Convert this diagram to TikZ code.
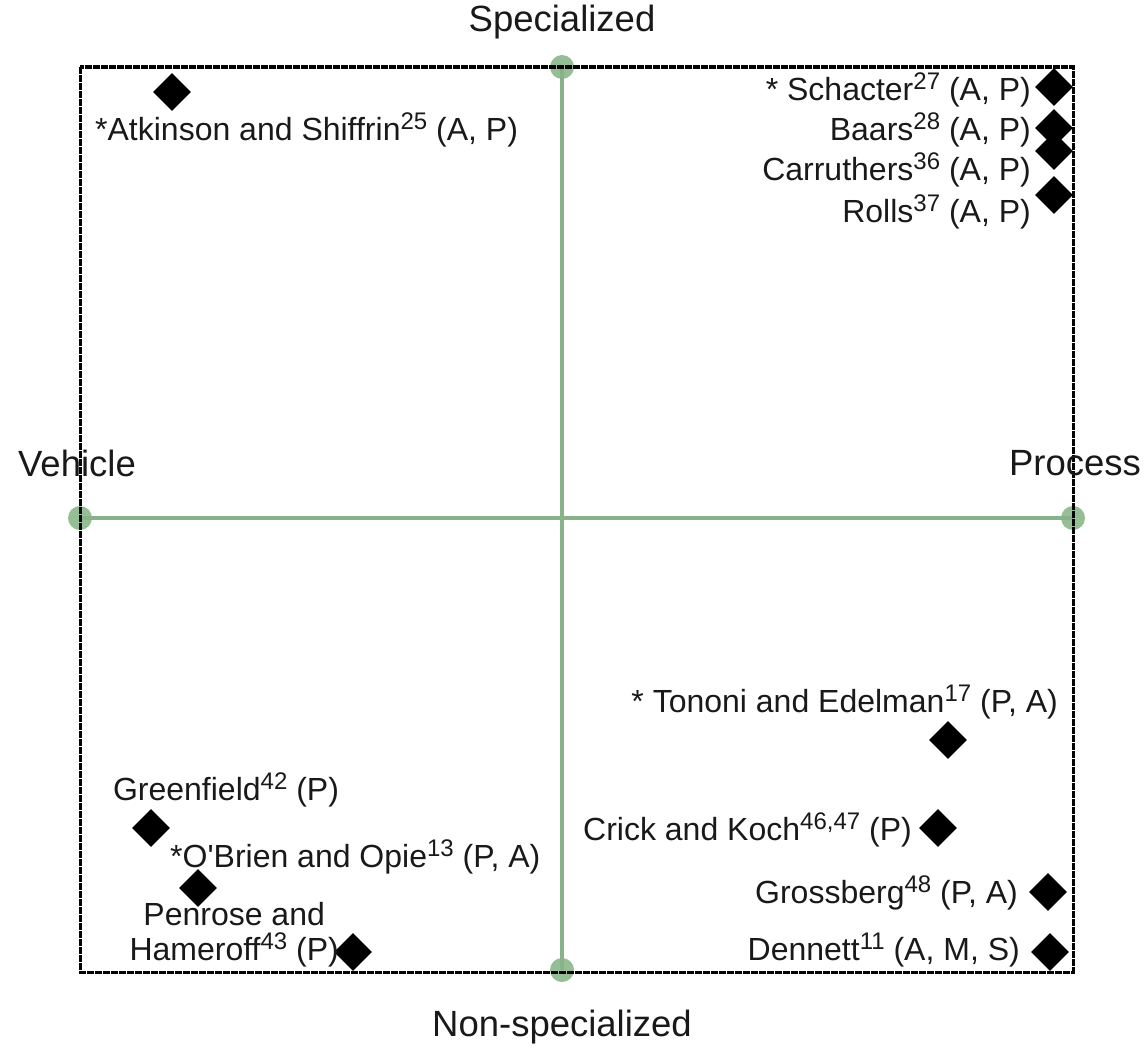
\documentclass[tikz,border=0pt]{standalone}
\usepackage{fontspec}
\setmainfont{Liberation Sans}
\usetikzlibrary{shapes.geometric}
\definecolor{axiscol}{RGB}{138,178,138}
\definecolor{dotcol}{RGB}{150,190,150}
\definecolor{txtcol}{RGB}{25,25,25}
\newcommand\refno[1]{\raisebox{11pt}{\fontsize{24}{24}\selectfont #1}}

\begin{document}
\begin{tikzpicture}[
  x=1pt, y=-1pt,
  font=\fontsize{32}{31}\selectfont, text=txtcol,
  frame/.style={line width=3pt, dash pattern=on 7pt off 1pt},
  axis/.style={line width=3.8pt, axiscol},
  endpt/.style={circle, fill=dotcol, minimum size=24pt, inner sep=0pt},
  theory/.style={diamond, fill=black, minimum width=38pt, minimum height=38pt, inner sep=0pt},
  lbl/.style={inner sep=0pt},
  pole/.style={inner sep=0pt, font=\fontsize{36.5}{40}\selectfont}
]
  \useasboundingbox (0,0) rectangle (1145,1049);

  % axes
  \node[endpt] (top) at (562,67) {};
  \node[endpt] (bot) at (562,970) {};
  \node[endpt] (lft) at (80,518) {};
  \node[endpt] (rgt) at (1073,518) {};
  \draw[axis] (top.center) -- (bot.center);
  \draw[axis] (lft.center) -- (rgt.center);

  \draw[frame] (80,67) rectangle (1073,972);

  \node[pole] (spec) at (562,22) {Specialized};
  \node[pole] (nonspec) at (562,1027) {Non-specialized};
  \node[pole] (veh) at (77,463) {Vehicle};
  \node[pole] (proc) at (1075,463) {Process};

  % upper left
  \node[theory] (atk) at (172,92) {};
  \node[lbl, anchor=west] (atkl) at (95,130)
    {*Atkinson and Shiffrin\refno{25} (A, P)};

  % upper right
  \node[theory] (sch) at (1054,87) {};
  \node[theory] (baa) at (1054,128) {};
  \node[theory] (car) at (1054,151) {};
  \node[theory] (rol) at (1054,195) {};
  \node[lbl, anchor=east] (schl) at (1031,90) {* Schacter\refno{27} (A, P)};
  \node[lbl, anchor=east] (baal) at (1031,130) {Baars\refno{28} (A, P)};
  \node[lbl, anchor=east] (carl) at (1031,170) {Carruthers\refno{36} (A, P)};
  \node[lbl, anchor=east] (roll) at (1031,212) {Rolls\refno{37} (A, P)};

  % lower right
  \node[theory] (ton) at (948,740) {};
  \node[lbl, anchor=east] (tonl) at (1058,702)
    {* Tononi and Edelman\refno{17} (P, A)};
  \node[theory] (cri) at (938,828) {};
  \node[lbl, anchor=east] (cril) at (912,830)
    {Crick and Koch\refno{46,47} (P)};
  \node[theory] (gro) at (1048,892) {};
  \node[lbl, anchor=east] (grol) at (1018,893)
    {Grossberg\refno{48} (P, A)};
  \node[theory] (den) at (1050,952) {};
  \node[lbl, anchor=east] (denl) at (1020,950)
    {Dennett\refno{11} (A, M, S)};

  % lower left
  \node[theory] (gre) at (151,828) {};
  \node[lbl] (grel) at (226,790) {Greenfield\refno{42} (P)};
  \node[theory] (obr) at (198,888) {};
  \node[lbl, anchor=west] (obrl) at (170,857)
    {*O\textquotesingle Brien and Opie\refno{13} (P, A)};
  \node[theory] (pen) at (353,952) {};
  \node[lbl, align=center, anchor=east, font=\fontsize{32}{35}\selectfont]
    (penl) at (339,935) {Penrose and\\Hameroff\refno{43} (P)};
\end{tikzpicture}
\end{document}
